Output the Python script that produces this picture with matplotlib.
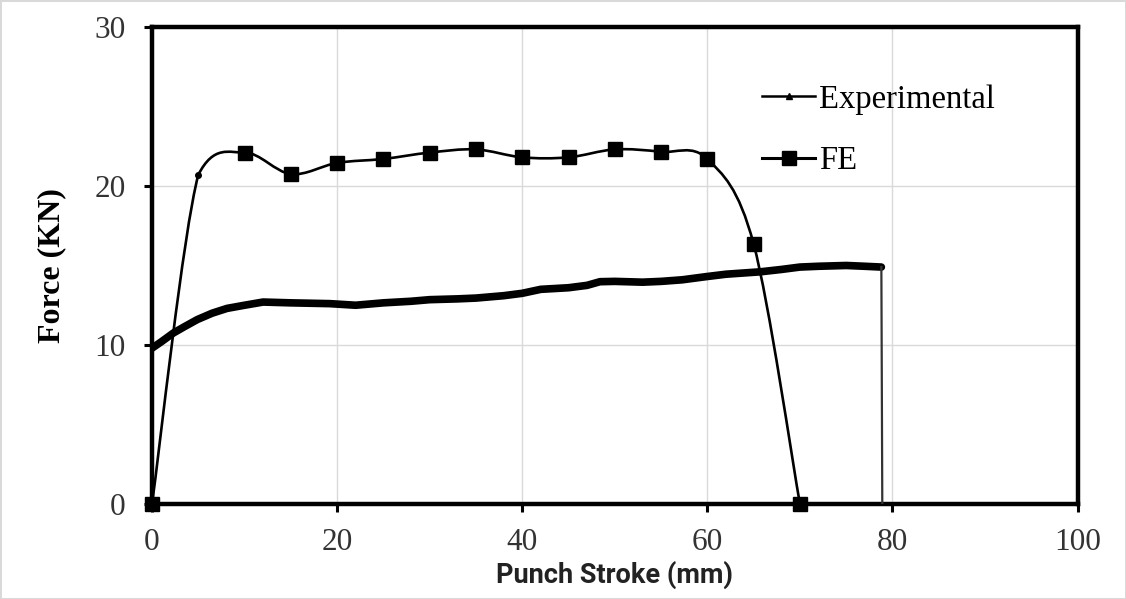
import numpy as np
import matplotlib
matplotlib.use("Agg")
import matplotlib.pyplot as plt
from matplotlib.path import Path
from matplotlib.patches import PathPatch
from matplotlib.lines import Line2D

# FE results (smoothed line in the original)
fe_x = [0, 5, 10, 15, 20, 25, 30, 35, 40, 45, 50, 55, 60, 65, 70]
fe_y = [0, 20.7, 22.1, 20.75, 21.45, 21.7, 22.1, 22.3, 21.8, 21.8, 22.3, 22.15, 21.7, 16.35, 0]

# experimental curve
exp_x = [0, 1, 2.3, 3.5, 4.9, 6.5, 8.1, 10, 12, 15, 19.2, 22, 25, 28, 30, 33, 35,
         38, 40, 42, 45, 47, 48.4, 50, 53, 55, 57.3, 59.9, 62, 65.7, 68, 70, 72,
         75, 77, 78.8, 78.9]
exp_y = [9.8, 10.2, 10.75, 11.15, 11.6, 12.0, 12.3, 12.5, 12.7, 12.65, 12.6, 12.5,
         12.65, 12.75, 12.85, 12.9, 12.95, 13.1, 13.25, 13.5, 13.6, 13.75, 13.98,
         14.0, 13.95, 14.0, 14.1, 14.3, 14.45, 14.6, 14.75, 14.9, 14.95, 15.0, 14.95,
         14.9, 0]

xticks = [0, 20, 40, 60, 80, 100]
yticks = [0, 10, 20, 30]

serif = "Liberation Serif"


def smooth_path(xs, ys, margin=0.5):
    # bezier through the points, like a spreadsheet "smoothed line"
    p = np.column_stack([xs, ys]).astype(float)
    verts = [p[0]]
    codes = [Path.MOVETO]
    n = len(p)
    for i in range(n - 1):
        p0 = p[i - 1] if i > 0 else p[i]
        p3 = p[i + 2] if i + 2 < n else p[i + 1]
        c1 = p[i] + (p[i + 1] - p0) / 6.0
        c2 = p[i + 1] - (p3 - p[i]) / 6.0
        lo = min(p[i][1], p[i + 1][1]) - margin
        hi = max(p[i][1], p[i + 1][1]) + margin
        c1[1] = np.clip(c1[1], lo, hi)
        c2[1] = np.clip(c2[1], lo, hi)
        verts += [c1, c2, p[i + 1]]
        codes += [Path.CURVE4] * 3
    return Path(verts, codes)


fig = plt.figure(figsize=(11.26, 5.99), dpi=100)
fig.patch.set_edgecolor("#d9d9d9")
fig.patch.set_linewidth(2)
ax = fig.add_axes([0.135, 0.1586, 0.822, 0.7964])

# experimental: thick band for the dense markers, thin line for the drop
ax.plot(exp_x[:-1], exp_y[:-1], color="black", lw=5.5, solid_capstyle="round", zorder=3)
ax.plot(exp_x[-2:], exp_y[-2:], color="#333333", lw=1.6, zorder=3)

# FE: smoothed curve with square markers
ax.add_patch(PathPatch(smooth_path(fe_x, fe_y), facecolor="none", edgecolor="black",
                       lw=1.9, zorder=4))
sq = [i for i in range(len(fe_x)) if i != 1]
ax.plot([fe_x[i] for i in sq], [fe_y[i] for i in sq], ls="none", marker="s",
        ms=10, color="black", zorder=5, clip_on=False)
ax.plot([fe_x[1]], [fe_y[1]], ls="none", marker="o", ms=4, color="black", zorder=5)

ax.set_xlim(0, 100)
ax.set_ylim(0, 30)
ax.set_xticks(xticks)
ax.set_yticks(yticks)
ax.grid(True, color="#d9d9d9", lw=1.0)
ax.set_axisbelow(True)
for s in ax.spines.values():
    s.set_linewidth(3.2)
    s.set_color("black")
ax.tick_params(direction="out", length=6, width=2.2, colors="black",
               labelcolor="#333333", labelsize=22.5, pad=11)
ax.tick_params(axis="y", pad=13)
for lab in ax.get_xticklabels() + ax.get_yticklabels():
    lab.set_family(serif)

ax.set_ylabel("Force (KN)", family=serif, fontweight="bold", fontsize=23, labelpad=20)
ax.set_xlabel("Punch Stroke (mm)", family=["Roboto", "DejaVu Sans"],
              fontweight="semibold", fontsize=19.5, color="#222222", labelpad=3)

handles = [
    Line2D([], [], color="black", lw=1.8, marker="^", ms=4),
    Line2D([], [], color="black", lw=2.2, marker="s", ms=10),
]
ax.legend(handles, ["Experimental", "FE"], loc="upper left",
          bbox_to_anchor=(0.659, 0.88), frameon=False, borderpad=0,
          borderaxespad=0, handlelength=1.63, handletextpad=0.12,
          labelspacing=0.95, prop={"family": serif, "size": 23.5})

fig.savefig("out.png", dpi=100)
